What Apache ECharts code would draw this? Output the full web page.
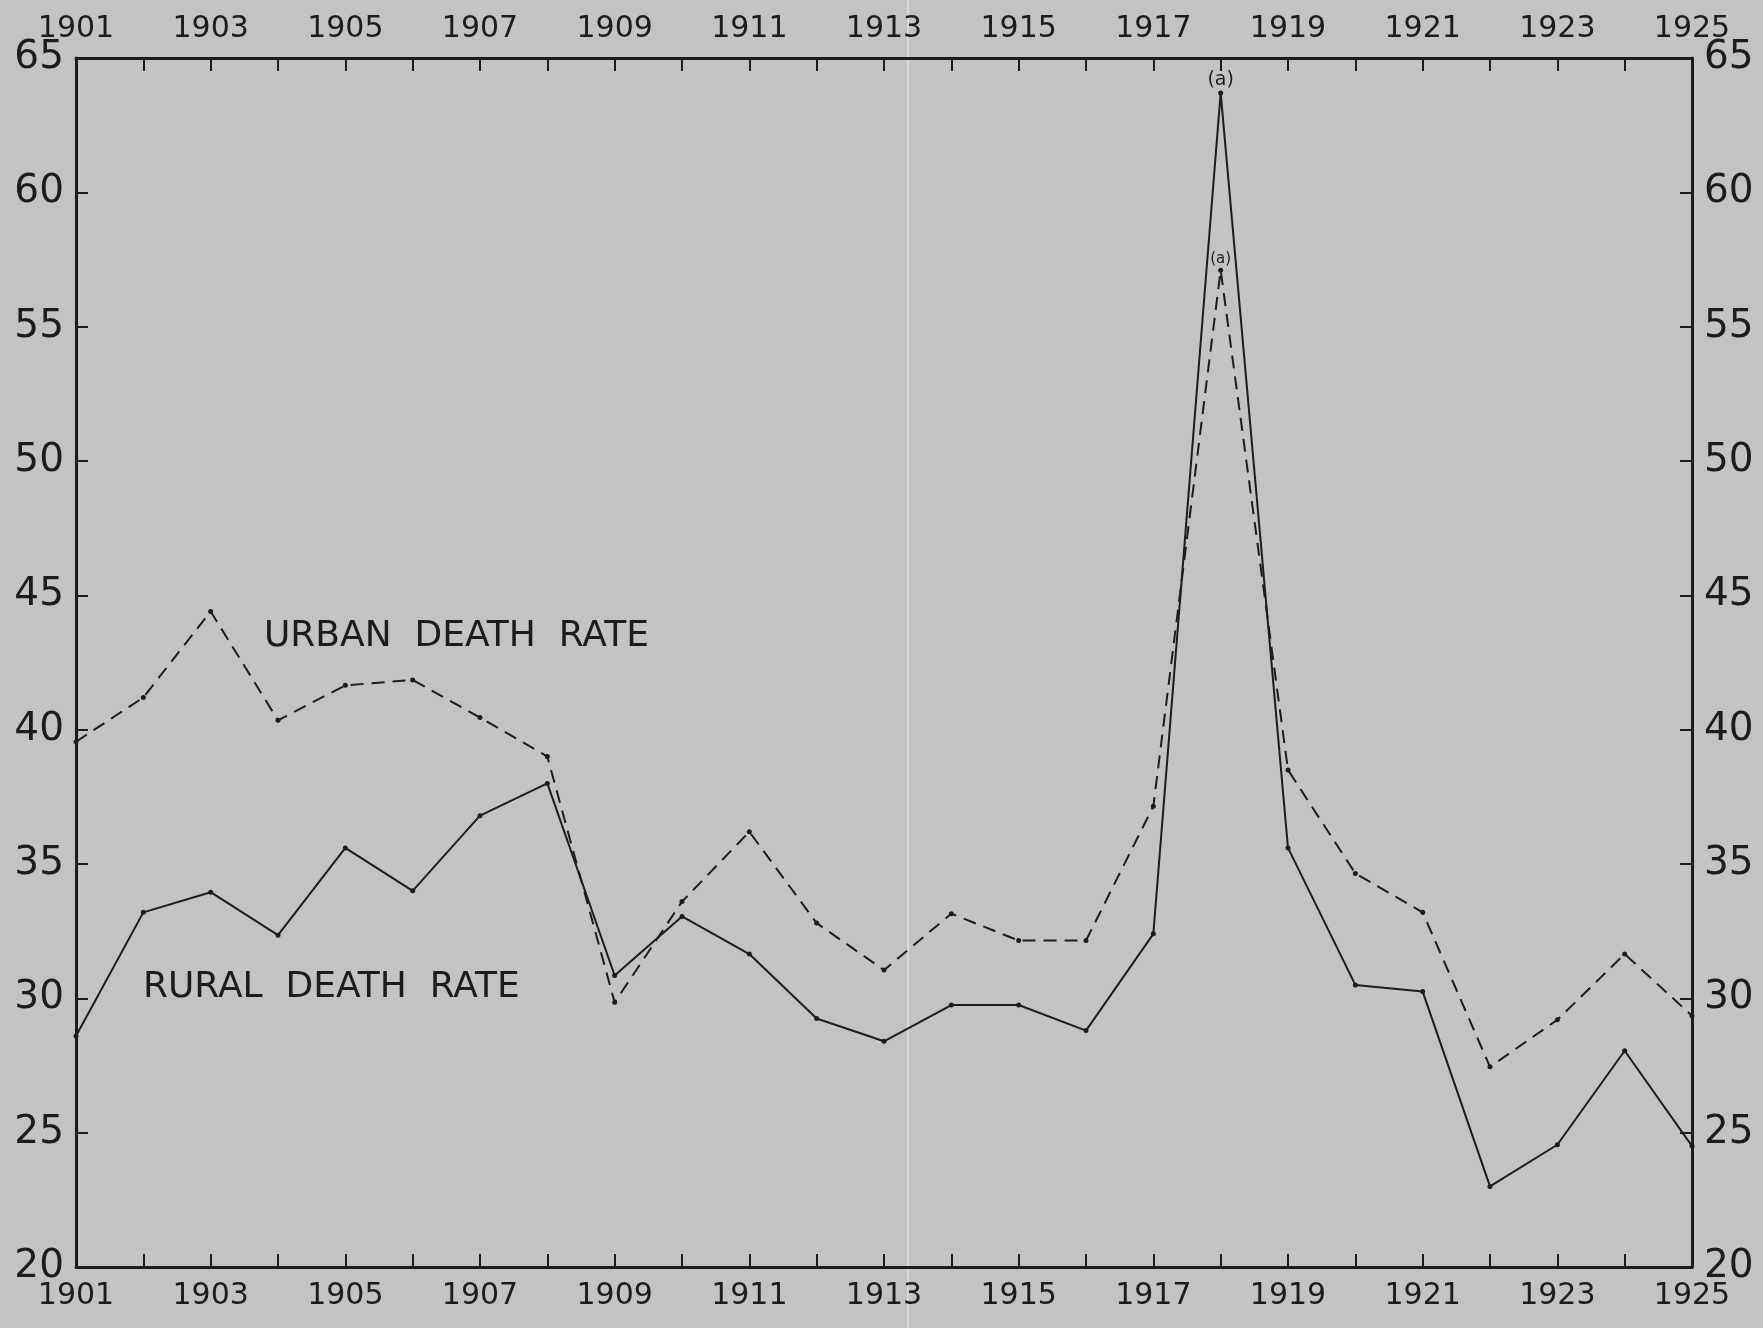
<!DOCTYPE html>
<html>
<head>
<meta charset="utf-8">
<title>Urban and rural death rate 1901-1925</title>
<script src="https://cdn.jsdelivr.net/npm/echarts@6/dist/echarts.min.js"></script>
<style>
  html, body { margin: 0; padding: 0; background: #c3c3c1; }
  #chart { width: 1763px; height: 1328px; }
</style>
</head>
<body>
<div id="chart"></div>
<script>
// years along the x axis
var years = ['1901', '1902', '1903', '1904', '1905', '1906', '1907', '1908', '1909', '1910',
    '1911', '1912', '1913', '1914', '1915', '1916', '1917', '1918', '1919', '1920',
    '1921', '1922', '1923', '1924', '1925'];
// rates read from the plate (per thousand)
var ruralRate = [28.6, 33.2, 33.95, 32.35, 35.6, 34.0, 36.8, 38.0, 30.85, 33.05,
    31.65, 29.25, 28.4, 29.75, 29.75, 28.8, 32.4, 63.7, 35.6, 30.5,
    30.25, 23.0, 24.55, 28.05, 24.5];
var urbanRate = [39.55, 41.2, 44.4, 40.35, 41.65, 41.85, 40.45, 39.0, 29.85, 33.6,
    36.2, 32.8, 31.05, 33.15, 32.15, 32.15, 37.15, 57.1, 38.5, 34.65,
    33.2, 27.45, 29.2, 31.65, 29.35];
var yTicks = [20, 25, 30, 35, 40, 45, 50, 55, 60, 65];
var noteYear = '1918'; // the "(a)" footnote sits on this year

var ink = '#1c1c1c';
var font = 'DejaVu Sans';

// put the "(a)" note on the 1918 point
function withNote(values, size) {
    return values.map(function (v, i) {
        if (years[i] !== noteYear) return v;
        return {
            value: v,
            label: { show: true, position: 'top', formatter: '(a)', color: ink, fontSize: size, fontFamily: font, distance: 1 }
        };
    });
}

var myChart = echarts.init(document.getElementById('chart'));

var xAxisBase = {
    type: 'category',
    data: years,
    boundaryGap: false,
    axisLine: { lineStyle: { color: ink, width: 3 } },
    axisTick: { inside: true, length: 13, interval: 0, lineStyle: { color: ink, width: 2 } },
    axisLabel: { interval: 1, color: ink, fontSize: 30, fontFamily: font, margin: 14 },
    splitLine: { show: false }
};
var yAxisBase = {
    type: 'value',
    min: yTicks[0],
    max: yTicks[yTicks.length - 1],
    interval: 5,
    axisLine: { show: true, lineStyle: { color: ink, width: 3 } },
    axisTick: { show: true, inside: true, length: 12, lineStyle: { color: ink, width: 2 } },
    axisLabel: { color: ink, fontSize: 39, fontFamily: font, margin: 12 },
    splitLine: { show: false }
};

var option = {
    backgroundColor: '#c3c3c1',
    animation: false,
    grid: { left: 76, right: 71, top: 58, bottom: 61, containLabel: false },
    xAxis: [
        Object.assign({}, xAxisBase, { position: 'bottom' }),
        Object.assign({}, xAxisBase, { position: 'top' })
    ],
    yAxis: [
        Object.assign({}, yAxisBase, { position: 'left' }),
        Object.assign({}, yAxisBase, { position: 'right' })
    ],
    series: [
        {
            name: 'RURAL DEATH RATE',
            type: 'line',
            data: withNote(ruralRate, 19),
            symbol: 'circle',
            symbolSize: 5,
            itemStyle: { color: ink },
            lineStyle: { color: ink, width: 2, type: 'solid' }
        },
        {
            name: 'URBAN DEATH RATE',
            type: 'line',
            data: withNote(urbanRate, 15),
            symbol: 'circle',
            symbolSize: 5,
            itemStyle: { color: ink },
            lineStyle: { color: ink, width: 2, type: [13, 8] }
        }
    ],
    graphic: [
        // crease of the folded plate
        {
            type: 'rect', left: 907, top: 0, z: -1,
            shape: { width: 2, height: 1328 },
            style: { fill: '#d8d8d6' }
        },
        {
            type: 'text', left: 264, top: 619,
            style: { text: 'URBAN  DEATH  RATE', fill: ink, fontSize: 36, fontFamily: font }
        },
        {
            type: 'text', left: 143, top: 970,
            style: { text: 'RURAL  DEATH  RATE', fill: ink, fontSize: 36, fontFamily: font }
        }
    ]
};

myChart.setOption(option);
</script>
</body>
</html>
